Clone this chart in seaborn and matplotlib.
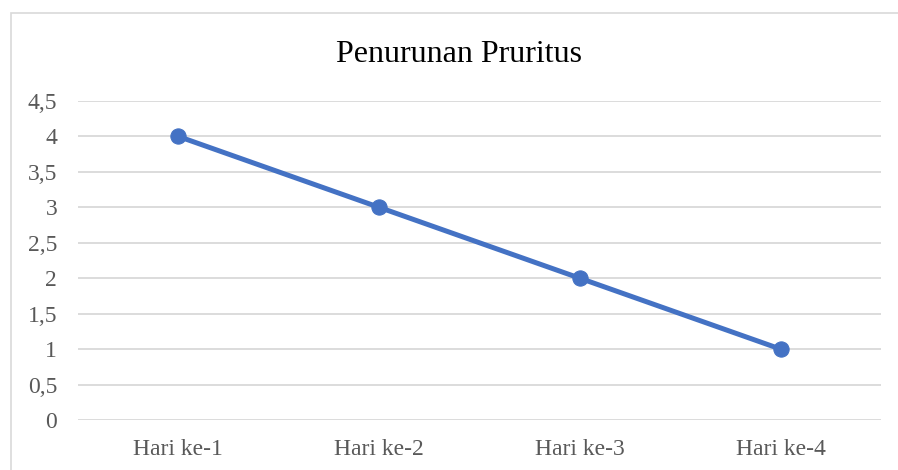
import matplotlib
matplotlib.use("Agg")
import matplotlib.pyplot as plt
from matplotlib.patches import Rectangle
from matplotlib.ticker import FixedLocator, FuncFormatter
import seaborn as sns
import pandas as pd

# Data
days = ["Hari ke-1", "Hari ke-2", "Hari ke-3", "Hari ke-4"]
pruritus = [4, 3, 2, 1]
y_ticks = [0, 0.5, 1, 1.5, 2, 2.5, 3, 3.5, 4, 4.5]

df = pd.DataFrame({"hari": days, "nilai": pruritus})

sns.set_style("white")
plt.rcParams["font.family"] = ["Liberation Serif", "DejaVu Serif"]

W, H = 898, 470
fig = plt.figure(figsize=(W / 100, H / 100), dpi=100)
ax = fig.add_axes([78 / W, 50 / H, (881 - 78) / W, (420 - 101) / H])

line_color = "#4472C4"
sns.lineplot(data=df, x="hari", y="nilai", ax=ax, color=line_color,
             linewidth=3.6, marker="o", markersize=11,
             markeredgecolor=line_color, sort=False)

ax.set_xlim(-0.5, len(days) - 0.5)
ax.set_ylim(0, 4.5)
ax.yaxis.set_major_locator(FixedLocator(y_ticks))
ax.yaxis.set_major_formatter(FuncFormatter(
    lambda v, _: (f"{v:g}").replace(".", ",")))
ax.grid(axis="y", color="#d9d9d9", linewidth=1.3)
ax.grid(axis="x", visible=False)
ax.set_axisbelow(True)
for s in ax.spines.values():
    s.set_visible(False)
ax.set_xlabel("")
ax.set_ylabel("")
ax.tick_params(axis="y", length=0, pad=15, labelsize=17, labelcolor="#595959")
ax.tick_params(axis="x", length=0, pad=14, labelsize=17, labelcolor="#595959")

# Chart title and outer frame
fig.text(459 / W, 1 - 54 / H, "Penurunan Pruritus", ha="center", va="center",
         fontsize=23, color="#000000")
fig.patches.append(Rectangle((10.5 / W, -0.1), 1.2, 1 - 12.5 / H + 0.1,
                             transform=fig.transFigure, fill=False,
                             edgecolor="#d9d9d9", linewidth=1.2))

fig.savefig("out.png", dpi=100, facecolor="white")
